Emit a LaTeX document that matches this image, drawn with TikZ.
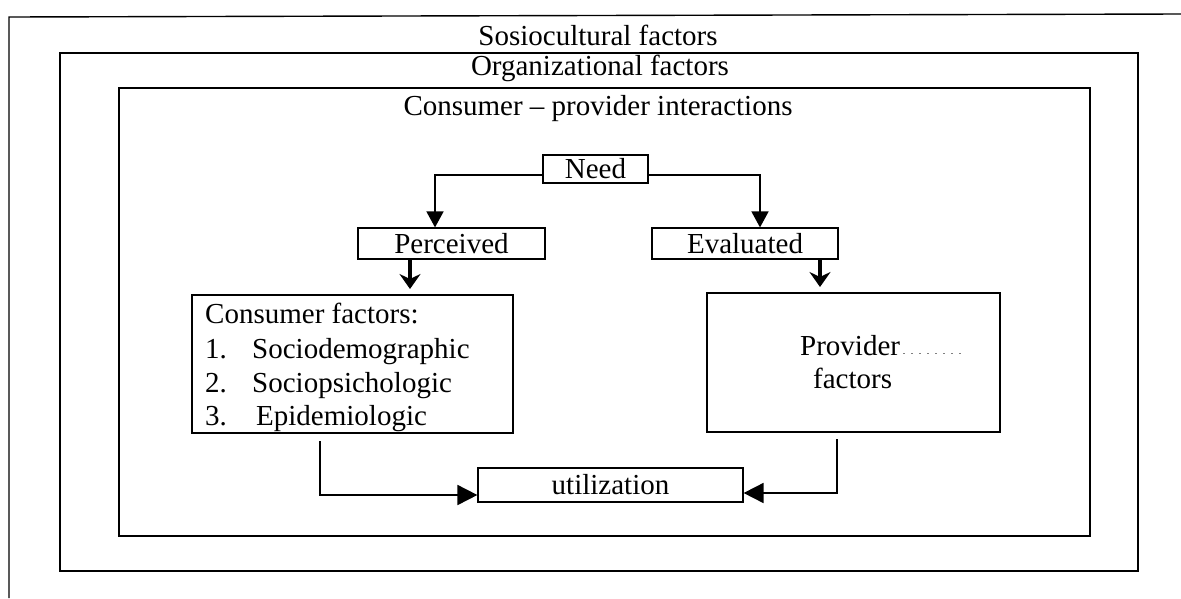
\documentclass[tikz,border=0pt]{standalone}
\usepackage{fontspec}
\setmainfont{Liberation Serif}
\usetikzlibrary{arrows.meta}
\begin{document}
\begin{tikzpicture}[x=1pt,y=-1pt,
  frame/.style={line width=1.4pt},
  box/.style={draw,line width=1.2pt,inner sep=0pt,font=\fontsize{29}{34}\selectfont},
  txt/.style={inner sep=0pt,font=\fontsize{29}{34}\selectfont},
  conn/.style={line width=1.6pt,-{Triangle[length=16pt,width=17pt]}},
  bigconn/.style={line width=1.8pt,-{Triangle[length=20pt,width=20pt]}},
  fat/.style={line width=4.5pt,-{Stealth[length=15pt,width=21pt,inset=5pt]}}
]
\useasboundingbox (0,0) rectangle (1181,598);
% frames
\draw[frame] (9,598) -- (9,17) -- (1181,14);
\draw[frame] (60,53) rectangle (1138,571);
\draw[frame] (119,88) rectangle (1090,536);
% titles
\node[txt,anchor=base] (t1) at (598,45) {Sosiocultural factors};
\node[txt,anchor=base] (t2) at (600,75) {Organizational factors};
\node[txt,anchor=base] (t3) at (598,115) {Consumer -- provider interactions};
% boxes
\node[box,minimum width=105pt,minimum height=28pt] (need) at (595.5,169) {Need};
\node[box,minimum width=187pt,minimum height=31pt] (perc) at (451.5,243.5) {Perceived};
\node[box,minimum width=186pt,minimum height=31pt] (eval) at (745,243.5) {Evaluated};
\node[box,minimum width=321pt,minimum height=138pt] (cons) at (352.5,364) {};
\node[box,minimum width=293pt,minimum height=139pt] (prov) at (853.5,362.5) {};
\node[box,minimum width=265pt,minimum height=34pt] (util) at (610.5,485) {utilization};
% consumer text
\node[txt,anchor=base west] (c0) at (205,323) {Consumer factors:};
\node[txt,anchor=base west] (c1n) at (205,358) {1.};
\node[txt,anchor=base west] (c1) at (252,358) {Sociodemographic};
\node[txt,anchor=base west] (c2n) at (205,392) {2.};
\node[txt,anchor=base west] (c2) at (252,392) {Sociopsichologic};
\node[txt,anchor=base west] (c3n) at (205,425) {3.};
\node[txt,anchor=base west] (c3) at (256,425) {Epidemiologic};
% provider text
\node[txt,anchor=base west] (p1) at (800,355) {Provider};
\node[txt,anchor=base west] (p2) at (813,388) {factors};
\draw[gray,line width=0.8pt,dash pattern=on 2pt off 6pt] (p1.base east) ++(3,-2) coordinate (pd1) -- ++(62,0) coordinate (pd2);
% connectors from need
\draw[conn] ([yshift=-6pt]need.west) -| (435,0 |- perc.north);
\draw[conn] ([yshift=-6pt]need.east) -| (760,0 |- eval.north);
% fat arrows
\draw[fat] (410,0 |- perc.south) -- (410,289);
\draw[fat] (820,0 |- eval.south) -- (820,287);
% to utilization
\coordinate (lc) at (320,441);
\coordinate (rc) at (837,439);
\draw[bigconn] (lc) |- ([yshift=-10pt]util.west);
\draw[bigconn] (rc) |- ([yshift=-8pt]util.east);
\end{tikzpicture}
\end{document}
